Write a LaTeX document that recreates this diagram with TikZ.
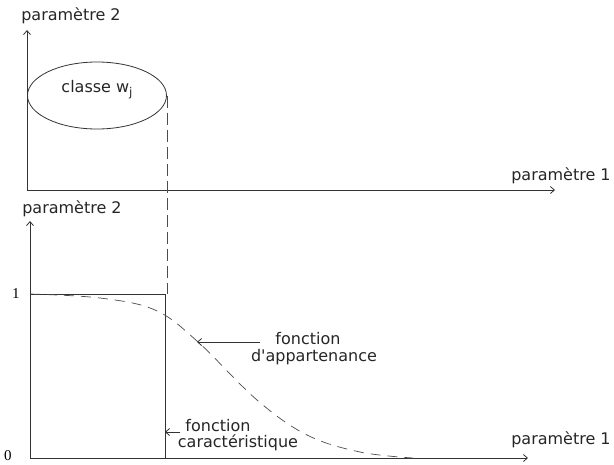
\documentclass[tikz,border=0pt]{standalone}
\usepackage{fontspec}
\setmainfont{DejaVu Sans}
\newfontfamily\numfont{Liberation Serif}
\usetikzlibrary{arrows.meta,shapes.geometric}
\begin{document}
\begin{tikzpicture}[x=1pt,y=-1pt,
  ln/.style={draw=black!80, line width=0.8pt},
  axis/.style={ln, {Straight Barb[length=4pt,width=7pt]}-{Straight Barb[length=4pt,width=7pt]}},
  ptr/.style={ln, -{Straight Barb[length=4pt,width=7pt]}},
  lbl/.style={font=\fontsize{16}{18}\selectfont, inner sep=0pt, text=black!85},
  num/.style={font=\numfont\fontsize{15}{17}\selectfont, inner sep=0pt},
  dsh/.style={draw=black!70, line width=0.8pt, dash pattern=on 12pt off 5pt}]
\useasboundingbox (0,0) rectangle (614,464);
% top panel
\coordinate (o1) at (27,190);
\coordinate (y1) at (27,30);
\coordinate (x1) at (555,190);
\draw[axis] (y1) -- (o1) -- (x1);
\node[lbl] (p2a) at (71,16) {paramètre 2};
\node[lbl] (p1a) at (561,176) {paramètre 1};
\node[ellipse, ln, draw, minimum width=139pt, minimum height=67pt, inner sep=0pt] (cls) at (97,95.5) {};
\node[lbl] (clstxt) at (97,90) {classe w\raisebox{-0.45ex}{\fontsize{12}{12}\selectfont j}};
% bottom panel
\coordinate (o2) at (30,458);
\coordinate (y2) at (30,221);
\coordinate (x2) at (528,458);
\draw[axis] (y2) -- (o2) -- (x2);
\node[lbl] (p2b) at (72,209) {paramètre 2};
\node[lbl] (p1b) at (561,440) {paramètre 1};
\node[num] (one) at (16,294) {1};
\node[num] (zero) at (8,456) {0};
\coordinate (r0) at (30,294);
\coordinate (r1) at (165,294);
\coordinate (r2) at (165,458);
\draw[ln] (r0) -- (r1) -- (r2);
\draw[dsh] (cls.east) -- (cls.east |- r1);
% membership curve
\draw[draw=black!70, line width=0.7pt, dash pattern=on 10pt off 7pt]
  plot[smooth, tension=0.6] coordinates {(30,294) (100,298) (155,310) (197,341) (257,400) (307,435) (360,452) (413,458)};
% labels with pointers
\node[lbl] (ap1) at (308,339) {fonction};
\node[lbl] (ap2) at (314,357) {d\textquotesingle appartenance};
\coordinate (aptip) at (197,342);
\draw[ptr] ([xshift=-15pt]ap1.west |- aptip) -- (aptip);
\node[lbl] (ca1) at (218,426) {fonction};
\node[lbl] (ca2) at (238,443) {caractéristique};
\coordinate (catip) at (165,432);
\draw[ptr] ([xshift=-5pt]ca1.west |- catip) -- (catip);
\end{tikzpicture}
\end{document}
